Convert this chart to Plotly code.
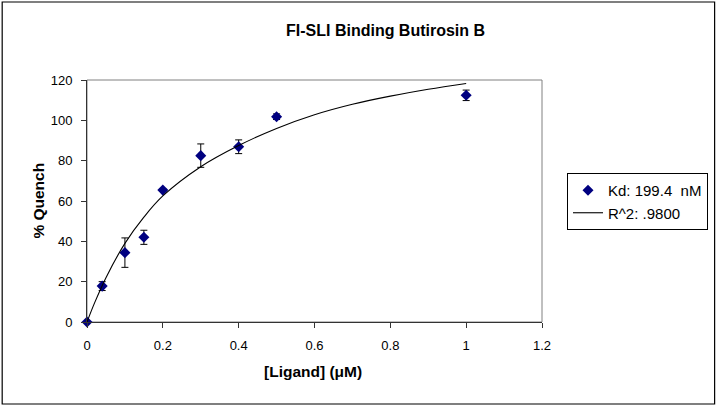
import plotly.graph_objects as go

ligand_uM = [0, 0.04, 0.10, 0.15, 0.20, 0.30, 0.40, 0.50, 1.00]
quench_pct = [0, 17.8, 34.4, 42.0, 65.4, 82.5, 86.9, 101.8, 112.4]
quench_err = [0, 2.2, 7.3, 3.5, 0.6, 5.8, 3.4, 1.4, 2.6]

# Fitted curve
fit_x = [0, 0.02, 0.05, 0.10, 0.15, 0.20, 0.30, 0.40, 0.50, 0.60, 0.70, 0.80, 0.90, 1.00]
fit_y = [0, 9.5, 22.0, 39.0, 52.0, 62.5, 77.0, 87.5, 96.0, 102.8, 108.0, 112.0, 115.4, 118.3]

x_ticks = [0, 0.2, 0.4, 0.6, 0.8, 1, 1.2]
y_ticks = [0, 20, 40, 60, 80, 100, 120]

W, H = 719, 410
L, R, T, B = 87, 543, 80, 322  # plot area pixel edges
pw, ph = R - L, B - T


def px_x(x):
    return (x - L) / pw


def px_y(y):
    return (B - y) / ph


FONT = "Liberation Sans, Arial, sans-serif"

fig = go.Figure()
fig.add_trace(go.Scatter(
    x=ligand_uM, y=quench_pct, mode="markers", name="Kd: 199.4\u00a0 nM",
    marker=dict(symbol="diamond", size=8.5, color="#000080"),
    error_y=dict(type="data", array=quench_err, visible=True, color="black", thickness=1, width=3.5),
    cliponaxis=False,
))
fig.add_trace(go.Scatter(
    x=fit_x, y=fit_y, mode="lines", name="R^2: .9800",
    line=dict(color="black", width=1.1, shape="spline"),
))

axis_common = dict(
    showgrid=False, zeroline=False, showline=True, linecolor="#333333", linewidth=1,
    ticks="outside", ticklen=5, tickcolor="#333333",
    tickfont=dict(family=FONT, size=13, color="black"),
)
fig.update_xaxes(range=[0, 1.2], tickvals=x_ticks, ticktext=[str(v) for v in x_ticks],
                 ticklabelstandoff=6, **axis_common)
fig.update_yaxes(range=[0, 120], tickvals=y_ticks, ticktext=[str(v) for v in y_ticks],
                 ticklabelstandoff=6, **axis_common)

fig.update_layout(
    width=W, height=H,
    margin=dict(l=L, r=W - R, t=T, b=H - B),
    paper_bgcolor="white", plot_bgcolor="white",
    showlegend=True,
    legend=dict(
        x=px_x(567), y=px_y(173), xanchor="left", yanchor="top",
        bordercolor="black", borderwidth=1, bgcolor="white",
        font=dict(family=FONT, size=15, color="black"),
        tracegroupgap=0,
    ),
    shapes=[
        dict(type="rect", xref="paper", yref="paper", x0=0, x1=1, y0=0, y1=1,
             line=dict(color="#808080", width=1), layer="below"),
        dict(type="rect", xref="paper", yref="paper",
             x0=px_x(2), x1=px_x(716), y0=px_y(404), y1=px_y(2),
             line=dict(color="black", width=1.2), layer="below"),
    ],
    annotations=[
        dict(text="<b>FI-SLI Binding Butirosin B</b>", xref="paper", yref="paper",
             x=px_x(386), y=px_y(30), xanchor="center", yanchor="middle", showarrow=False,
             font=dict(family=FONT, size=16, color="black")),
        dict(text="<b>[Ligand] (μM)</b>", xref="paper", yref="paper",
             x=px_x(313), y=px_y(371), xanchor="center", yanchor="middle", showarrow=False,
             font=dict(family=FONT, size=15.5, color="black")),
        dict(text="<b>% Quench</b>", xref="paper", yref="paper", textangle=-90,
             x=px_x(37.5), y=px_y(201), xanchor="center", yanchor="middle", showarrow=False,
             font=dict(family=FONT, size=15.5, color="black")),
    ],
)

fig.write_html("out.html", config={"displayModeBar": False},
               post_script="document.body.style.margin='0';")
